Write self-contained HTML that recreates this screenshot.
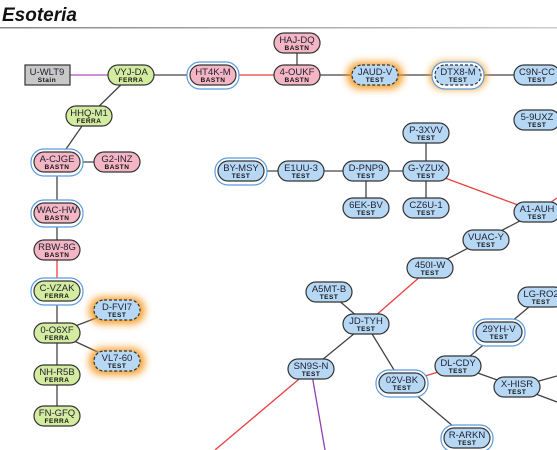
<!DOCTYPE html>
<html><head><meta charset="utf-8"><style>
body{margin:0;background:#fff;width:557px;height:450px;overflow:hidden}
svg{display:block}
text{font-family:"Liberation Sans",sans-serif;text-anchor:middle}
.a{font-size:9.5px;fill:#223}
.b{font-size:6.5px;font-weight:bold;fill:#111;letter-spacing:.5px}
</style></head><body>
<svg width="557" height="450" viewBox="0 0 557 450">
<defs>
<filter id="g" x="-50%" y="-80%" width="200%" height="260%"><feGaussianBlur stdDeviation="4"/></filter>
<linearGradient id="ln" x1="0" x2="1"><stop offset="0" stop-color="#888"/><stop offset="1" stop-color="#ccc"/></linearGradient>
</defs>
<text x="2" y="21" style="text-anchor:start;font-size:19px;font-weight:bold;font-style:italic" fill="#111">Esoteria</text>
<rect x="0" y="27" width="557" height="1.5" fill="url(#ln)"/>
<g stroke="#444" stroke-width="1.3" fill="none">
<line x1="70" y1="75" x2="109" y2="75" stroke="#b050c0"/>
<line x1="131" y1="75" x2="213" y2="75"/>
<line x1="213" y1="75" x2="297" y2="75" stroke="#e84040"/>
<line x1="297" y1="43" x2="297" y2="75"/>
<line x1="297" y1="75" x2="537" y2="75"/>
<line x1="131" y1="75" x2="89" y2="116"/>
<line x1="89" y1="116" x2="57" y2="162"/>
<line x1="57" y1="162" x2="117" y2="162"/>
<line x1="57" y1="162" x2="57" y2="250"/>
<line x1="57" y1="250" x2="57" y2="291" stroke="#e84040"/>
<line x1="57" y1="291" x2="57" y2="416"/>
<line x1="57" y1="333" x2="117" y2="310"/>
<line x1="57" y1="333" x2="117" y2="361"/>
<line x1="241" y1="171" x2="426" y2="171"/>
<line x1="426" y1="133" x2="426" y2="208"/>
<line x1="366" y1="171" x2="366" y2="208"/>
<line x1="426" y1="171" x2="537" y2="212" stroke="#e84040"/>
<line x1="537" y1="212" x2="557" y2="198" stroke="#e84040"/>
<line x1="537" y1="212" x2="430" y2="268"/>
<line x1="430" y1="268" x2="366" y2="324" stroke="#e84040"/>
<line x1="329" y1="292" x2="366" y2="324"/>
<line x1="366" y1="324" x2="311" y2="369"/>
<line x1="366" y1="324" x2="402" y2="383"/>
<line x1="311" y1="369" x2="215" y2="450" stroke="#e84040"/>
<line x1="311" y1="369" x2="325" y2="450" stroke="#9040b0"/>
<line x1="402" y1="383" x2="458" y2="366" stroke="#e84040"/>
<line x1="458" y1="366" x2="499" y2="332"/>
<line x1="499" y1="332" x2="541" y2="297"/>
<line x1="458" y1="366" x2="517" y2="387"/>
<line x1="517" y1="387" x2="557" y2="376"/>
<line x1="517" y1="387" x2="557" y2="402"/>
<line x1="402" y1="383" x2="467" y2="438"/>
<line x1="537" y1="120" x2="557" y2="112"/>
</g>
<g fill="#f59a20" opacity=".95" filter="url(#g)">
<rect x="347" y="62" width="56" height="27" rx="13"/>
<rect x="430" y="62" width="56" height="27" rx="13"/>
<rect x="89" y="297" width="56" height="27" rx="13"/>
<rect x="89" y="348" width="56" height="27" rx="13"/>
</g>
<g fill="#fff" stroke="#5a9be0" stroke-width="1.2">
<rect x="187" y="62" width="52" height="27" rx="13"/>
<rect x="432" y="62" width="52" height="27" rx="13"/>
<rect x="31" y="149" width="52" height="27" rx="13"/>
<rect x="31" y="200" width="52" height="27" rx="13"/>
<rect x="31" y="278" width="52" height="27" rx="13"/>
<rect x="215" y="158" width="52" height="27" rx="13"/>
<rect x="376" y="370" width="52" height="27" rx="13"/>
<rect x="473" y="319" width="52" height="27" rx="13"/>
<rect x="441" y="425" width="52" height="27" rx="13"/>
</g>
<g stroke="#333" stroke-width="1.2">
<rect x="25" y="65" width="45" height="20" fill="#c8c8c8"/>
<g fill="#f4b6c4">
<rect x="274" y="33" width="46" height="20" rx="10"/>
<rect x="274" y="65" width="46" height="20" rx="10"/>
<rect x="190" y="65" width="46" height="20" rx="10"/>
<rect x="34" y="152" width="46" height="20" rx="10"/>
<rect x="94" y="152" width="46" height="20" rx="10"/>
<rect x="34" y="203" width="46" height="20" rx="10"/>
<rect x="34" y="240" width="46" height="20" rx="10"/>
</g>
<g fill="#d4eca0">
<rect x="108" y="65" width="46" height="20" rx="10"/>
<rect x="66" y="106" width="46" height="20" rx="10"/>
<rect x="34" y="281" width="46" height="20" rx="10"/>
<rect x="34" y="323" width="46" height="20" rx="10"/>
<rect x="34" y="365" width="46" height="20" rx="10"/>
<rect x="34" y="406" width="46" height="20" rx="10"/>
</g>
<g fill="#b6d8f4">
<rect x="352" y="65" width="46" height="20" rx="10" stroke-dasharray="3,2"/>
<rect x="435" y="65" width="46" height="20" rx="10" stroke-dasharray="3,2"/>
<rect x="94" y="300" width="46" height="20" rx="10" stroke-dasharray="3,2"/>
<rect x="94" y="351" width="46" height="20" rx="10" stroke-dasharray="3,2"/>
<rect x="514" y="65" width="46" height="20" rx="10"/>
<rect x="514" y="110" width="46" height="20" rx="10"/>
<rect x="218" y="161" width="46" height="20" rx="10"/>
<rect x="278" y="161" width="46" height="20" rx="10"/>
<rect x="343" y="161" width="46" height="20" rx="10"/>
<rect x="403" y="161" width="46" height="20" rx="10"/>
<rect x="403" y="123" width="46" height="20" rx="10"/>
<rect x="343" y="198" width="46" height="20" rx="10"/>
<rect x="403" y="198" width="46" height="20" rx="10"/>
<rect x="514" y="202" width="46" height="20" rx="10"/>
<rect x="463" y="230" width="46" height="20" rx="10"/>
<rect x="407" y="258" width="46" height="20" rx="10"/>
<rect x="306" y="282" width="46" height="20" rx="10"/>
<rect x="343" y="314" width="46" height="20" rx="10"/>
<rect x="288" y="359" width="46" height="20" rx="10"/>
<rect x="379" y="373" width="46" height="20" rx="10"/>
<rect x="435" y="356" width="46" height="20" rx="10"/>
<rect x="476" y="322" width="46" height="20" rx="10"/>
<rect x="518" y="287" width="46" height="20" rx="10"/>
<rect x="494" y="377" width="46" height="20" rx="10"/>
<rect x="444" y="428" width="46" height="20" rx="10"/>
</g>
</g>
<g>
<text class="a" x="47" y="75">U-WLT9</text><text class="b" x="47" y="82">Stain</text>
<text class="a" x="297" y="43">HAJ-DQ</text><text class="b" x="297" y="50">BASTN</text>
<text class="a" x="297" y="75">4-OUKF</text><text class="b" x="297" y="82">BASTN</text>
<text class="a" x="213" y="75">HT4K-M</text><text class="b" x="213" y="82">BASTN</text>
<text class="a" x="57" y="162">A-CJGE</text><text class="b" x="57" y="169">BASTN</text>
<text class="a" x="117" y="162">G2-INZ</text><text class="b" x="117" y="169">BASTN</text>
<text class="a" x="57" y="213">WAC-HW</text><text class="b" x="57" y="220">BASTN</text>
<text class="a" x="57" y="250">RBW-8G</text><text class="b" x="57" y="257">BASTN</text>
<text class="a" x="131" y="75">VYJ-DA</text><text class="b" x="131" y="82">FERRA</text>
<text class="a" x="89" y="116">HHQ-M1</text><text class="b" x="89" y="123">FERRA</text>
<text class="a" x="57" y="291">C-VZAK</text><text class="b" x="57" y="298">FERRA</text>
<text class="a" x="57" y="333">0-O6XF</text><text class="b" x="57" y="340">FERRA</text>
<text class="a" x="57" y="375">NH-R5B</text><text class="b" x="57" y="382">FERRA</text>
<text class="a" x="57" y="416">FN-GFQ</text><text class="b" x="57" y="423">FERRA</text>
<text class="a" x="375" y="75">JAUD-V</text><text class="b" x="375" y="82">TEST</text>
<text class="a" x="458" y="75">DTX8-M</text><text class="b" x="458" y="82">TEST</text>
<text class="a" x="117" y="310">D-FVI7</text><text class="b" x="117" y="317">TEST</text>
<text class="a" x="117" y="361">VL7-60</text><text class="b" x="117" y="368">TEST</text>
<text class="a" x="537" y="75">C9N-CC</text><text class="b" x="537" y="82">TEST</text>
<text class="a" x="537" y="120">5-9UXZ</text><text class="b" x="537" y="127">TEST</text>
<text class="a" x="241" y="171">BY-MSY</text><text class="b" x="241" y="178">TEST</text>
<text class="a" x="301" y="171">E1UU-3</text><text class="b" x="301" y="178">TEST</text>
<text class="a" x="366" y="171">D-PNP9</text><text class="b" x="366" y="178">TEST</text>
<text class="a" x="426" y="171">G-YZUX</text><text class="b" x="426" y="178">TEST</text>
<text class="a" x="426" y="133">P-3XVV</text><text class="b" x="426" y="140">TEST</text>
<text class="a" x="366" y="208">6EK-BV</text><text class="b" x="366" y="215">TEST</text>
<text class="a" x="426" y="208">CZ6U-1</text><text class="b" x="426" y="215">TEST</text>
<text class="a" x="537" y="212">A1-AUH</text><text class="b" x="537" y="219">TEST</text>
<text class="a" x="486" y="240">VUAC-Y</text><text class="b" x="486" y="247">TEST</text>
<text class="a" x="430" y="268">450I-W</text><text class="b" x="430" y="275">TEST</text>
<text class="a" x="329" y="292">A5MT-B</text><text class="b" x="329" y="299">TEST</text>
<text class="a" x="366" y="324">JD-TYH</text><text class="b" x="366" y="331">TEST</text>
<text class="a" x="311" y="369">SN9S-N</text><text class="b" x="311" y="376">TEST</text>
<text class="a" x="402" y="383">02V-BK</text><text class="b" x="402" y="390">TEST</text>
<text class="a" x="458" y="366">DL-CDY</text><text class="b" x="458" y="373">TEST</text>
<text class="a" x="499" y="332">29YH-V</text><text class="b" x="499" y="339">TEST</text>
<text class="a" x="541" y="297">LG-RO2</text><text class="b" x="541" y="304">TEST</text>
<text class="a" x="517" y="387">X-HISR</text><text class="b" x="517" y="394">TEST</text>
<text class="a" x="467" y="438">R-ARKN</text><text class="b" x="467" y="445">TEST</text>
</g>
</svg>
</body></html>
